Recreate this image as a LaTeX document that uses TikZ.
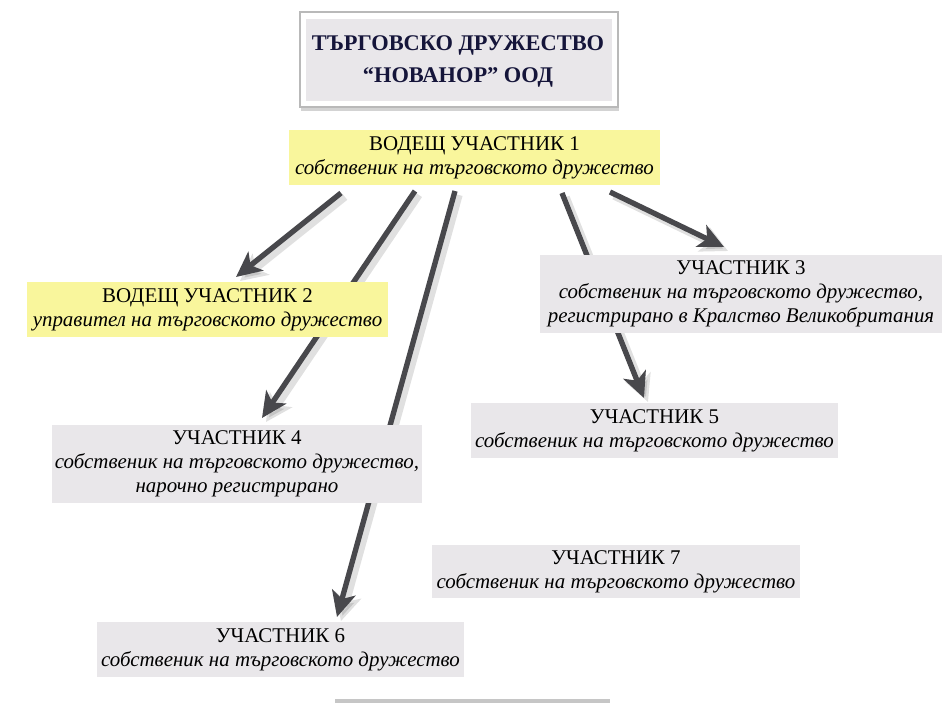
\documentclass[tikz,border=0pt]{standalone}
\usepackage{fontspec}
\setmainfont{Liberation Serif}
\usetikzlibrary{arrows.meta,shadows}
\pgfdeclarelayer{background}
\pgfsetlayers{background,main}
\definecolor{boxgray}{HTML}{E9E7EA}
\definecolor{boxyellow}{HTML}{F9F69C}
\definecolor{arrowgray}{HTML}{48484C}
\definecolor{titleink}{HTML}{15153A}
\tikzset{
  px/.style={x=0.75pt,y=-0.75pt},
  card/.style={rectangle,inner sep=0pt,align=center,font=\fontsize{15.7}{17.8}\selectfont},
  graycard/.style={card,fill=boxgray},
  yellowcard/.style={card,fill=boxyellow},
  link/.style={draw=arrowgray,line width=4pt,-{Stealth[length=19pt,width=18pt,inset=5pt]}},
  linkshadow/.style={draw=black,opacity=0.12,line width=5.5pt,-{Stealth[length=20pt,width=20pt,inset=5pt]}},
}
\newcommand{\role}[1]{\textit{#1}}
\begin{document}
\begin{tikzpicture}[px]
\useasboundingbox (0,0) rectangle (951,703);
% title
\node[draw=gray!55,fill=white,line width=0.8pt,minimum width={318*0.75pt},minimum height={95*0.75pt},
      drop shadow={shadow xshift=1pt,shadow yshift=-3pt,opacity=0.35}] (titleframe) at (459,59.5) {};
\node[fill=boxgray,minimum width={306*0.75pt},minimum height={82*0.75pt}] (titlebox) at (459,59.5) {};
\node[align=center,font=\fontsize{16.8}{24}\bfseries,text=titleink] (title) at (458,61) {ТЪРГОВСКО ДРУЖЕСТВО\\“НОВАНОР” ООД};
% participants
\node[yellowcard,minimum width={371*0.75pt},minimum height={55*0.75pt}] (l1) at (474.5,157.5)
  {ВОДЕЩ УЧАСТНИК 1\\\role{собственик на търговското дружество}};
\node[yellowcard,minimum width={361*0.75pt},minimum height={55*0.75pt}] (l2) at (207.5,309.5)
  {ВОДЕЩ УЧАСТНИК 2\\\role{управител на търговското дружество}};
\node[graycard,minimum width={402*0.75pt},minimum height={78*0.75pt}] (u3) at (741,294)
  {УЧАСТНИК 3\\\role{собственик на търговското дружество,}\\\role{регистрирано в Кралство Великобритания}};
\node[graycard,minimum width={370*0.75pt},minimum height={78*0.75pt}] (u4) at (237,464)
  {УЧАСТНИК 4\\\role{собственик на търговското дружество,}\\\role{нарочно регистрирано}};
\node[graycard,minimum width={367*0.75pt},minimum height={55*0.75pt}] (u5) at (654.5,430.5)
  {УЧАСТНИК 5\\\role{собственик на търговското дружество}};
\node[graycard,minimum width={368*0.75pt},minimum height={53*0.75pt}] (u7) at (616,571.5)
  {УЧАСТНИК 7\\\role{собственик на търговското дружество}};
\node[graycard,minimum width={367*0.75pt},minimum height={55*0.75pt}] (u6) at (280.5,649.5)
  {УЧАСТНИК 6\\\role{собственик на търговското дружество}};
% partial box at the bottom edge
\fill[gray!45] (335,699) rectangle (610,703);
% connector end points
\coordinate (s1) at (341,193); \coordinate (e1) at (236,277);
\coordinate (s2) at (415,191); \coordinate (e2) at (262,418);
\coordinate (s3) at (455,191); \coordinate (e3) at (337,617);
\coordinate (s4) at (562,193); \coordinate (e4) at (644,398);
\coordinate (s5) at (610,192); \coordinate (e5) at (724,247);
\begin{pgfonlayer}{background}
  \foreach \a in {1,...,5}{
    \draw[linkshadow,transform canvas={xshift=3pt,yshift=-3pt}] (s\a) -- (e\a);
  }
  \foreach \a in {1,...,5}{
    \draw[link] (s\a) -- (e\a);
  }
\end{pgfonlayer}
\end{tikzpicture}
\end{document}
